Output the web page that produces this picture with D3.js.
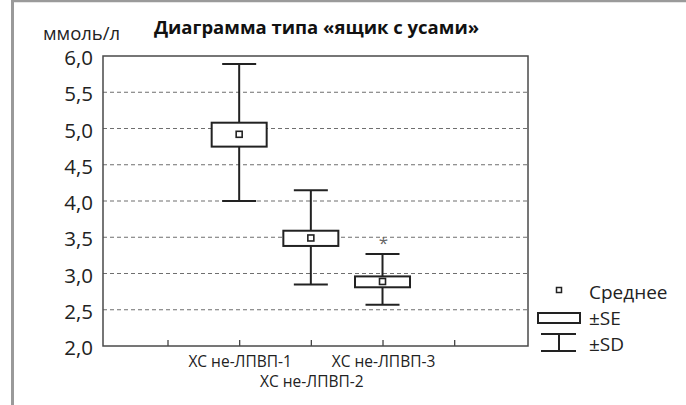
<!DOCTYPE html>
<html>
<head>
<meta charset="utf-8">
<script src="https://cdn.jsdelivr.net/npm/d3@7"></script>
<style>
  body { margin: 0; background: #fff; }
  svg { display: block; font-family: "Open Sans", "DejaVu Sans", sans-serif; }
</style>
</head>
<body>
<div id="chart"></div>
<script>
// Data
const categories = ["ХС не-ЛПВП-1", "ХС не-ЛПВП-2", "ХС не-ЛПВП-3"];
const means   = [4.92, 3.49, 2.89];
const seLow   = [4.75, 3.38, 2.81];
const seHigh  = [5.08, 3.59, 2.96];
const sdLow   = [4.00, 2.85, 2.57];
const sdHigh  = [5.89, 4.15, 3.27];
const outliers = [{cat: 2, v: 3.47}];
const yTicks  = [2.0, 2.5, 3.0, 3.5, 4.0, 4.5, 5.0, 5.5, 6.0];
const legendItems = ["Среднее", "±SE", "±SD"];

const width = 686, height = 405;
const plot = {left: 103, right: 528, top: 56, bottom: 346};

const svg = d3.select("#chart").append("svg")
    .attr("width", width)
    .attr("height", height);

// frame
svg.append("line").attr("x1", 12.5).attr("x2", 12.5).attr("y1", 0).attr("y2", height)
    .attr("stroke", "#9a9a9a").attr("stroke-width", 3);
svg.append("line").attr("x1", 11).attr("x2", width).attr("y1", 1).attr("y2", 1)
    .attr("stroke", "#9a9a9a").attr("stroke-width", 2.5);

const x = d3.scaleLinear().domain([0.1, 6.03]).range([plot.left, plot.right]);
const y = d3.scaleLinear().domain([2, 6]).range([plot.bottom, plot.top]);
const X = i => x(i + 2); // category index -> pixel

// grid
svg.append("g").selectAll("line")
    .data(yTicks.filter(v => v > 2 && v < 6))
    .join("line")
    .attr("x1", plot.left).attr("x2", plot.right)
    .attr("y1", d => y(d)).attr("y2", d => y(d))
    .attr("stroke", "#6f6f6f").attr("stroke-width", 1.2)
    .attr("stroke-dasharray", "4,3");

// y axis labels
const yAxis = d3.axisLeft(y).tickValues(yTicks).tickSize(0).tickPadding(10)
    .tickFormat(d => d3.format(".1f")(d).replace(".", ","));
svg.append("g").attr("transform", `translate(${plot.left},2)`).call(yAxis)
    .call(g => g.select(".domain").remove())
    .call(g => g.selectAll("text").attr("font-size", 20.5).attr("fill", "#222")
        .attr("font-family", "'Open Sans', sans-serif"));

// x axis ticks (pointing up)
const xAxis = d3.axisBottom(x).tickValues([1, 2, 3, 4, 5]).tickSize(-6).tickFormat("");
svg.append("g").attr("transform", `translate(0,${plot.bottom})`).call(xAxis)
    .call(g => g.select(".domain").remove())
    .call(g => g.selectAll("line").attr("stroke", "#444").attr("stroke-width", 1.3));

// plot border
svg.append("rect")
    .attr("x", plot.left).attr("y", plot.top)
    .attr("width", plot.right - plot.left).attr("height", plot.bottom - plot.top)
    .attr("fill", "none").attr("stroke", "#4a4a4a").attr("stroke-width", 1.5);

// category labels, staggered
svg.append("g").selectAll("text")
    .data(categories)
    .join("text")
    .attr("x", (d, i) => X(i) + 1)
    .attr("y", (d, i) => i === 1 ? 387 : 367)
    .attr("text-anchor", "middle")
    .attr("font-size", 15.5)
    .attr("fill", "#222")
    .text(d => d);

// boxes
const boxW = 55, capW = 34;
const boxes = svg.append("g").selectAll("g")
    .data(categories.map((c, i) => i))
    .join("g")
    .attr("stroke", "#222").attr("stroke-width", 2).attr("fill", "none");

boxes.append("line")
    .attr("x1", X).attr("x2", X)
    .attr("y1", i => y(sdHigh[i])).attr("y2", i => y(sdLow[i]));
boxes.append("line")
    .attr("x1", i => X(i) - capW / 2).attr("x2", i => X(i) + capW / 2)
    .attr("y1", i => y(sdHigh[i])).attr("y2", i => y(sdHigh[i]));
boxes.append("line")
    .attr("x1", i => X(i) - capW / 2).attr("x2", i => X(i) + capW / 2)
    .attr("y1", i => y(sdLow[i])).attr("y2", i => y(sdLow[i]));
boxes.append("rect")
    .attr("x", i => X(i) - boxW / 2).attr("width", boxW)
    .attr("y", i => y(seHigh[i])).attr("height", i => y(seLow[i]) - y(seHigh[i]))
    .attr("fill", "#fff");
boxes.append("rect")
    .attr("x", i => X(i) - 3).attr("y", i => y(means[i]) - 3)
    .attr("width", 6).attr("height", 6)
    .attr("fill", "#fff").attr("stroke-width", 1.6);

// outliers
svg.append("g").selectAll("text")
    .data(outliers)
    .join("text")
    .attr("x", d => X(d.cat) + 1)
    .attr("y", d => y(d.v) + 10)
    .attr("text-anchor", "middle")
    .attr("font-size", 17)
    .attr("fill", "#666")
    .text("*");

// title and unit
svg.append("text").attr("x", 316.5).attr("y", 34).attr("text-anchor", "middle")
    .attr("font-size", 18.5).attr("font-weight", "bold").attr("fill", "#111")
    .text("Диаграмма типа «ящик с усами»");
svg.append("text").attr("x", 43).attr("y", 40)
    .attr("font-size", 18.5).attr("fill", "#222")
    .text("ммоль/л");

// legend
const lg = svg.append("g").attr("stroke", "#222").attr("fill", "none").attr("stroke-width", 2);
lg.append("rect").attr("x", 556.5).attr("y", 287.5).attr("width", 5).attr("height", 5).attr("stroke-width", 1.5);
lg.append("rect").attr("x", 538).attr("y", 313).attr("width", 42).attr("height", 10);
lg.append("line").attr("x1", 541).attr("x2", 576).attr("y1", 334).attr("y2", 334);
lg.append("line").attr("x1", 541).attr("x2", 576).attr("y1", 351).attr("y2", 351);
lg.append("line").attr("x1", 559).attr("x2", 559).attr("y1", 334).attr("y2", 351);

svg.append("g").selectAll("text")
    .data(legendItems)
    .join("text")
    .attr("x", 589)
    .attr("y", (d, i) => [299, 325, 351][i])
    .attr("font-size", 19)
    .attr("fill", "#222")
    .text(d => d);
</script>
</body>
</html>
